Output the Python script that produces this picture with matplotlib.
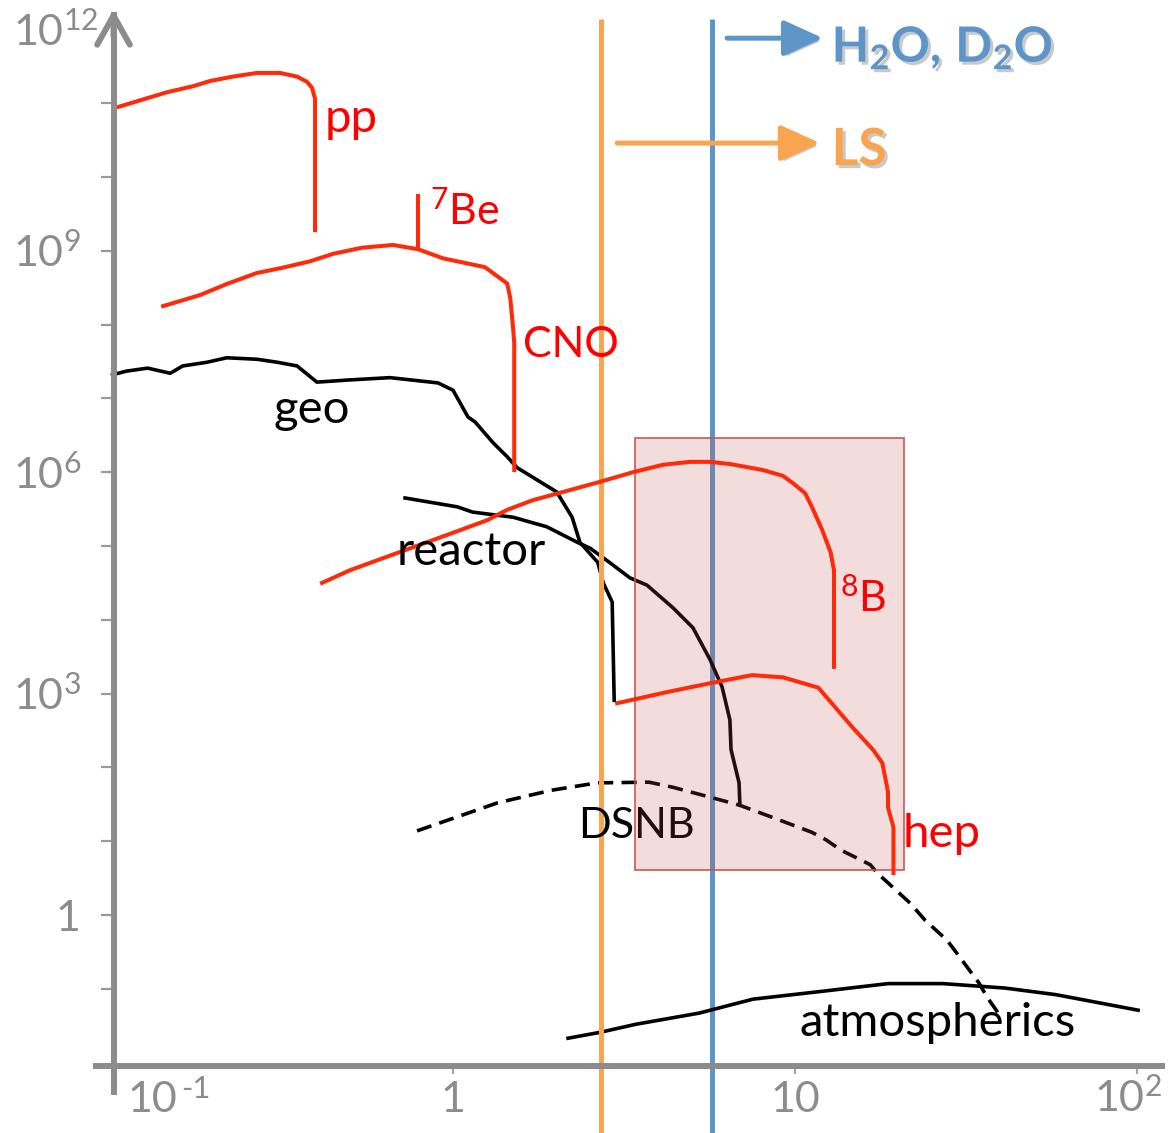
import matplotlib
matplotlib.use('Agg')
import matplotlib.pyplot as plt
import matplotlib.patheffects as pe
from matplotlib.patches import Rectangle

plt.rcParams['font.family'] = ['Lato', 'DejaVu Sans']
plt.rcParams['mathtext.fontset'] = 'custom'
plt.rcParams['mathtext.rm'] = 'Lato'
plt.rcParams['mathtext.it'] = 'Lato:italic'
plt.rcParams['mathtext.bf'] = 'Lato:bold'

# ---------------- data (energy in MeV, flux) ----------------
pp_E = [0.105, 0.146, 0.174, 0.195, 0.227, 0.267, 0.312, 0.350, 0.374, 0.387, 0.395, 0.395]
pp_F = [8.9e10, 1.41e11, 1.70e11, 2.0e11, 2.29e11, 2.57e11, 2.57e11, 2.29e11, 1.95e11, 1.62e11, 1.15e11, 1.9e9]

be7_E = [0.79, 0.79]
be7_F = [5.5e9, 1.1e9]

cno_E = [0.142, 0.182, 0.218, 0.267, 0.318, 0.382, 0.446, 0.542, 0.668, 0.790, 0.935, 1.24, 1.44, 1.47, 1.50, 1.51, 1.51]
cno_F = [1.78e8, 2.51e8, 3.55e8, 5.0e8, 5.9e8, 7.2e8, 9.1e8, 1.1e9, 1.2e9, 1.05e9, 7.9e8, 6.0e8, 3.6e8, 2.3e8, 8.5e7, 5.6e7, 1.07e6]

geo_E = [0.101, 0.111, 0.128, 0.149, 0.162, 0.191, 0.218, 0.267, 0.306, 0.350, 0.400, 0.500, 0.654, 0.904, 1.0,
         1.106, 1.16, 1.31, 1.44, 1.54, 2.01, 2.23, 2.35, 2.65, 2.75, 2.92, 2.96]
geo_F = [2.09e7, 2.34e7, 2.57e7, 2.19e7, 2.75e7, 3.09e7, 3.55e7, 3.39e7, 3.09e7, 2.75e7, 1.66e7, 1.78e7, 1.91e7, 1.62e7, 1.29e7,
         5.6e6, 4.8e6, 2.5e6, 1.62e6, 1.15e6, 5.4e5, 2.45e5, 1.12e5, 6.0e4, 3.16e4, 1.74e4, 8.1e2]

reactor_E = [0.724, 1.03, 1.14, 1.50, 1.88, 2.31, 2.52, 2.88, 3.29, 3.69, 4.40, 5.03, 5.64, 6.12, 6.45, 6.50, 6.86, 6.90]
reactor_F = [4.47e5, 3.39e5, 2.88e5, 2.45e5, 1.82e5, 1.12e5, 9.3e4, 5.9e4, 3.7e4, 2.95e4, 1.45e4, 7.8e3, 2.9e3, 1.23e3,
             4.4e2, 1.74e2, 62, 31]

b8_E = [0.414, 0.500, 0.700, 0.960, 1.26, 1.44, 1.71, 2.16, 2.69, 3.36, 4.11, 4.93, 5.64, 6.45, 8.06, 9.22, 9.86, 10.7,
        11.2, 12.0, 12.7, 13.0, 13.0]
b8_F = [3.16e4, 4.7e4, 8.3e4, 1.41e5, 2.24e5, 3.09e5, 4.17e5, 5.6e5, 7.4e5, 1.0e6, 1.26e6, 1.38e6, 1.38e6, 1.29e6, 1.07e6,
        8.9e5, 7.1e5, 5.2e5, 3.4e5, 1.66e5, 8.3e4, 4.7e4, 2.3e3]

hep_E = [3.02, 4.22, 5.64, 7.48, 9.22, 11.7, 13.3, 14.8, 16.9, 18.0, 18.7, 18.7, 19.4, 19.4]
hep_F = [741, 1047, 1380, 1778, 1660, 1202, 603, 339, 174, 115, 46.8, 28.8, 15.5, 3.7]

dsnb_E = [0.785, 1.35, 1.94, 2.64, 3.74, 4.40, 5.61, 6.86, 8.74, 11.2, 12.3, 13.6, 16.6, 17.4, 21.7, 24.0, 27.8, 29.2,
          34.5, 36.4, 39.3]
dsnb_F = [13.8, 33.1, 49.0, 61.7, 63.1, 53.7, 39.8, 30.9, 20.4, 13.2, 10.5, 7.6, 4.8, 3.7, 1.45, 0.85, 0.457, 0.339,
          0.120, 0.0776, 0.0468]

atm_E = [2.17, 2.69, 3.43, 5.24, 7.54, 11.7, 18.7, 27.1, 41.1, 58.0, 100.7]
atm_F = [0.0214, 0.0257, 0.0331, 0.0468, 0.0724, 0.0912, 0.1175, 0.1175, 0.1023, 0.0832, 0.0513]

ls_threshold = 2.70      # MeV
water_threshold = 5.72   # MeV
window_E = (3.41, 20.8)
window_F = (4.1, 2.9e6)

y_tick_exps = list(range(-1, 12))
y_label_exps = [12, 9, 6, 3]
x_tick_vals = [1, 10, 100]

# ---------------- styling ----------------
RED = '#FF2A0A'
TXT_RED = '#FF0000'
BLACK = '#000000'
GRAY = '#8C8C8C'
ORANGE = '#F9A54F'
BLUE = '#5E95C9'
FS = 31
FS_L = 34

fig = plt.figure(figsize=(11.72, 11.33), dpi=100)
ax = fig.add_axes([0, 0, 1, 1])
ax.set_xscale('log')
ax.set_yscale('log')
ax.set_xlim(10 ** -1.3246, 10 ** 2.1023)
ax.set_ylim(10 ** -2.954, 10 ** 12.398)
ax.patch.set_alpha(0)

# axes: spines positioned in data coords
yaxis_x = 0.1017
xaxis_y = 0.0090
for s in ['top', 'right']:
    ax.spines[s].set_visible(False)
ax.spines['left'].set_position(('data', yaxis_x))
ax.spines['bottom'].set_position(('data', xaxis_y))
ax.spines['left'].set_bounds(10 ** -2.40, 10 ** 12.2)
ax.spines['bottom'].set_bounds(0.0904, 118)
for s in ['left', 'bottom']:
    ax.spines[s].set_color(GRAY)
    ax.spines[s].set_linewidth(4.3)
    ax.spines[s].set_zorder(6)

ax.set_yticks([10.0 ** k for k in y_tick_exps])
ax.set_xticks(x_tick_vals)
ax.minorticks_off()
ax.tick_params(axis='y', direction='out', length=9.5, width=1.6, color='#9A9A9A', labelleft=False)
ax.tick_params(axis='x', direction='out', length=6, width=1.6, color='#A6A6A6', labelbottom=False)

# arrow heads of axes
ax.annotate('', xy=(yaxis_x, 10 ** 12.27), xytext=(yaxis_x, 10 ** 11.9),
            arrowprops=dict(arrowstyle='->,head_length=0.75,head_width=0.42', lw=4.3, color=GRAY,
                            mutation_scale=28, shrinkA=0, shrinkB=0), zorder=6)
ax.annotate('', xy=(128, xaxis_y), xytext=(90, xaxis_y),
            arrowprops=dict(arrowstyle='->,head_length=0.75,head_width=0.42', lw=4.3, color=GRAY,
                            mutation_scale=28, shrinkA=0, shrinkB=0), zorder=6)

# tick labels
for k in y_label_exps:
    ax.text(0.0516, 10.0 ** k * 10 ** -0.22, r'$\mathregular{10^{%d}}$' % k, color=GRAY, fontsize=FS,
            ha='left', va='baseline')
ax.text(0.0686, 10 ** -0.22, '1', color=GRAY, fontsize=FS, ha='left', va='baseline')
xl_y = 0.00214
ax.text(0.112, xl_y, '10', color=GRAY, fontsize=FS, ha='left', va='baseline')
ax.text(0.160, 0.0033, '-1', color=GRAY, fontsize=FS * 0.72, ha='left', va='baseline')
ax.text(1, xl_y, '1', color=GRAY, fontsize=FS, ha='center', va='baseline')
ax.text(10, xl_y, '10', color=GRAY, fontsize=FS, ha='center', va='baseline')
ax.text(74.8, xl_y, r'$\mathregular{10^{2}}$', color=GRAY, fontsize=FS, ha='left', va='baseline')

# threshold lines
ax.plot([ls_threshold, ls_threshold], [1.4e12, 1e-3], color=ORANGE, lw=3.6, zorder=2.5, solid_capstyle='butt')
ax.plot([water_threshold, water_threshold], [1.4e12, 1e-3], color=BLUE, lw=3.6, zorder=2, solid_capstyle='butt')

# black curves
ax.plot(geo_E, geo_F, color=BLACK, lw=2.6, zorder=2)
ax.plot(reactor_E, reactor_F, color=BLACK, lw=2.6, zorder=2)
ax.plot(dsnb_E, dsnb_F, color=BLACK, lw=2.6, zorder=2, dashes=(4.2, 2.3))
ax.plot(atm_E, atm_F, color=BLACK, lw=2.6, zorder=2)

# window rectangle
ax.add_patch(Rectangle((window_E[0], window_F[0]), window_E[1] - window_E[0], window_F[1] - window_F[0],
                       facecolor=(0.75, 0.30, 0.28, 0.19), edgecolor=(0.78, 0.33, 0.31, 0.9), lw=1.3, zorder=3))

# red curves
for E, F in [(pp_E, pp_F), (be7_E, be7_F), (cno_E, cno_F), (b8_E, b8_F), (hep_E, hep_F)]:
    ax.plot(E, F, color=RED, lw=2.9, zorder=4)

# curve labels
ax.text(0.422, 4.07e10, 'pp', color=TXT_RED, fontsize=FS_L, va='baseline', zorder=5)
ax.text(0.857, 2.24e9, r'$\mathregular{^{7}}$Be', color=TXT_RED, fontsize=FS, va='baseline', zorder=5)
ax.text(1.60, 3.6e7, 'CNO', color=TXT_RED, fontsize=FS, va='baseline', zorder=5)
ax.text(0.298, 4.7e6, 'geo', color=BLACK, fontsize=FS_L, va='baseline', zorder=5)
ax.text(0.686, 5.5e4, 'reactor', color=BLACK, fontsize=FS_L, va='baseline', zorder=5)
ax.text(13.5, 1.29e4, r'$\mathregular{^{8}}$B', color=TXT_RED, fontsize=FS, va='baseline', zorder=5)
ax.text(20.7, 8.3, 'hep', color=TXT_RED, fontsize=FS_L, va='baseline', zorder=5)
ax.text(2.32, 11.0, 'DSNB', color=BLACK, fontsize=FS, va='baseline', zorder=2.8)
ax.text(10.3, 0.0229, 'atmospherics', color=BLACK, fontsize=FS_L, va='baseline', zorder=5)

# detector arrows + labels
shadow = [pe.SimplePatchShadow(offset=(2.2, -2.2), shadow_rgbFace='#888888', alpha=0.45), pe.Normal()]
a1 = ax.annotate('', xy=(12.08, 7.6e11), xytext=(6.33, 7.6e11),
                 arrowprops=dict(arrowstyle='-|>,head_length=1.1,head_width=0.5', lw=3.6, color=BLUE,
                                 mutation_scale=22, shrinkA=0, shrinkB=0), zorder=5)
a2 = ax.annotate('', xy=(11.83, 2.88e10), xytext=(3.02, 2.88e10),
                 arrowprops=dict(arrowstyle='-|>,head_length=1.1,head_width=0.5', lw=3.6, color=ORANGE,
                                 mutation_scale=22, shrinkA=0, shrinkB=0), zorder=5)
a1.arrow_patch.set_path_effects(shadow)
a2.arrow_patch.set_path_effects(shadow)
t1 = ax.text(12.8, 3.6e11, r'$\mathbf{H_2O,\!\ D_2O}$', color=BLUE, fontsize=35, va='baseline', zorder=5)
t2 = ax.text(12.8, 1.45e10, 'LS', color=ORANGE, fontsize=37, fontweight='bold', va='baseline', zorder=5)
t1.set_path_effects(shadow)
t2.set_path_effects(shadow)

fig.savefig('out.png', dpi=100)
